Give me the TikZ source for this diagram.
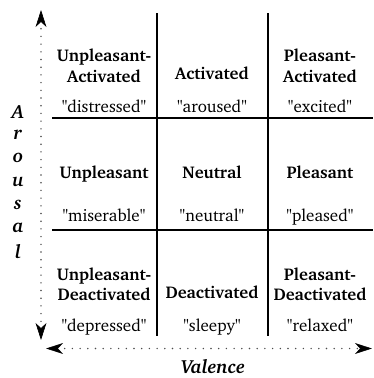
\documentclass[tikz,border=0pt]{standalone}
\usepackage[T1]{fontenc}
\usepackage{charter}
\usetikzlibrary{calc}
\newcommand{\qq}[1]{\textquotedbl#1\textquotedbl}
\begin{document}
\begin{tikzpicture}[x=1pt,y=-1pt,
  gridline/.style={line width=2pt,black},
  axisline/.style={line width=1.6pt,gray!60!black,line cap=round,dash pattern=on 0pt off 7.7pt},
  headfill/.style={fill=black,draw=black,line width=0.6pt,line join=miter},
  ttl/.style={font=\fontsize{17}{20}\selectfont\bfseries,anchor=base,inner sep=0pt},
  qt/.style={font=\fontsize{17}{20}\selectfont,anchor=base,inner sep=0pt},
  axl/.style={font=\fontsize{19}{22}\selectfont\bfseries\itshape,inner sep=0pt}]
\useasboundingbox (0,0) rectangle (373,378);
% grid
\coordinate (v1t) at (157,13); \coordinate (v1b) at (157,336);
\coordinate (v2t) at (268,13); \coordinate (v2b) at (268,336);
\coordinate (h1l) at (52,118); \coordinate (h1r) at (373,118);
\coordinate (h2l) at (52,230); \coordinate (h2r) at (373,230);
\draw[gridline] (v1t) -- (v1b);
\draw[gridline] (v2t) -- (v2b);
\draw[gridline] (h1l) -- (h1r);
\draw[gridline] (h2l) -- (h2r);
% axes
\coordinate (ayt) at (41,11); \coordinate (ayb) at (41,339);
\coordinate (axl) at (47,348.5); \coordinate (axr) at (371,348.5);
\draw[axisline] ($(ayb)+(0,-10)$) -- ($(ayt)+(0,10)$);
\draw[axisline] ($(axl)+(10,0)$) -- ($(axr)+(-10,0)$);
% arrow heads
\fill[headfill] (ayt) -- ($(ayt)+(4.8,15)$) -- ($(ayt)+(0,10.5)$) -- ($(ayt)+(-4.8,15)$) -- cycle;
\fill[headfill] (ayb) -- ($(ayb)+(4.8,-15)$) -- ($(ayb)+(0,-10.5)$) -- ($(ayb)+(-4.8,-15)$) -- cycle;
\fill[headfill] (axl) -- ($(axl)+(15,4.8)$) -- ($(axl)+(10.5,0)$) -- ($(axl)+(15,-4.8)$) -- cycle;
\fill[headfill] (axr) -- ($(axr)+(-15,4.8)$) -- ($(axr)+(-10.5,0)$) -- ($(axr)+(-15,-4.8)$) -- cycle;
% axis labels
\node[axl] (la1) at (18,112) {A};
\node[axl] (la2) at (18,135) {r};
\node[axl] (la3) at (18,158) {o};
\node[axl] (la4) at (18,182) {u};
\node[axl] (la5) at (18,205) {s};
\node[axl] (la6) at (18,228) {a};
\node[axl] (la7) at (18,252) {l};
\node[axl] (val) at (213,367) {Valence};
% row 1
\node[ttl] (t11a) at (104,61) {Unpleasant-};
\node[ttl] (t11b) at (104,82) {Activated};
\node[ttl] (t12) at (212,79) {Activated};
\node[ttl] (t13a) at (320,61) {Pleasant-};
\node[ttl] (t13b) at (320,82) {Activated};
\node[qt] (q11) at (104,112) {\qq{distressed}};
\node[qt] (q12) at (212,112) {\qq{aroused}};
\node[qt] (q13) at (320,112) {\qq{excited}};
% row 2
\node[ttl] (t21) at (104,178) {Unpleasant};
\node[ttl] (t22) at (212,178) {Neutral};
\node[ttl] (t23) at (320,178) {Pleasant};
\node[qt] (q21) at (104,221) {\qq{miserable}};
\node[qt] (q22) at (212,221) {\qq{neutral}};
\node[qt] (q23) at (320,221) {\qq{pleased}};
% row 3
\node[ttl] (t31a) at (104,280) {Unpleasant-};
\node[ttl] (t31b) at (104,300) {Deactivated};
\node[ttl] (t32) at (212,298) {Deactivated};
\node[ttl] (t33a) at (320,280) {Pleasant-};
\node[ttl] (t33b) at (320,300) {Deactivated};
\node[qt] (q31) at (104,331) {\qq{depressed}};
\node[qt] (q32) at (212,331) {\qq{sleepy}};
\node[qt] (q33) at (320,331) {\qq{relaxed}};
\end{tikzpicture}
\end{document}
